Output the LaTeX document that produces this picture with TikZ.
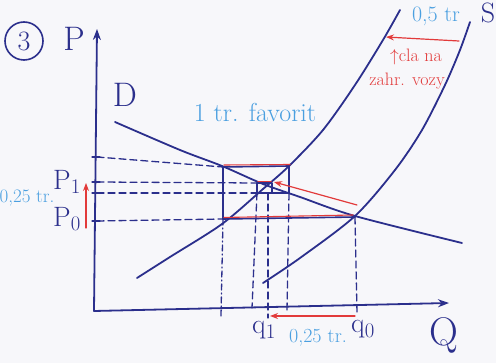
\documentclass[tikz,border=0pt]{standalone}
\usepackage{fontspec}
\setmainfont{Latin Modern Roman}
\usetikzlibrary{arrows.meta}
\definecolor{ink}{HTML}{2B2F8C}
\definecolor{lblue}{HTML}{4A9FE0}
\definecolor{rred}{HTML}{E23A3A}
\definecolor{paper}{HTML}{F7F7FA}
\begin{document}
\begin{tikzpicture}[x=1pt,y=-1pt,line cap=round,line join=round,
  fs/.style={font=\fontsize{#1}{#1}\selectfont},
  curve/.style={ink,line width=1.8pt},
  axisline/.style={ink,line width=1.8pt,-{Stealth[length=11pt,width=8pt]}},
  guide/.style={ink,line width=1.3pt,dash pattern=on 7pt off 4pt},
  dashdot/.style={ink,line width=1.3pt,dash pattern=on 6pt off 3pt on 1pt off 3pt},
  boxline/.style={ink,line width=1.6pt},
  redline/.style={rred,line width=1.1pt},
  redarr/.style={rred,line width=1.2pt,-{Stealth[length=8pt,width=6pt]}},
  tick/.style={ink,line width=1.3pt},
  inktext/.style={text=ink,inner sep=0pt},
  bluetext/.style={text=lblue,inner sep=0pt},
  redtext/.style={text=rred,inner sep=0pt}]
\useasboundingbox (0,0) rectangle (496,363);
\fill[paper] (0,0) rectangle (496,363);

% axes
\coordinate (O) at (94,311);
\coordinate (Ptop) at (97,29);
\coordinate (Qend) at (449,303);
\draw[axisline] (O) -- (Ptop);
\draw[axisline] (O) -- (Qend);

% key points
\coordinate (A) at (223,167);   % large box top-left
\coordinate (B) at (289,166);   % large box top-right
\coordinate (C) at (223,219);   % large box bottom-left
\coordinate (E0) at (355,217);  % original equilibrium
\coordinate (s1) at (257,183);  % small box top-left
\coordinate (s2) at (272,183);
\coordinate (s3) at (272,193);
\coordinate (s4) at (257,193);
\coordinate (Br) at (289,193);

% demand
\draw[curve] plot[smooth] coordinates {(115,122) (180,150) (222,166) (263,184) (300,197) (355,216) (462,243)};
% supply S (original)
\draw[curve] plot[smooth] coordinates {(263,283) (300,258) (355,216) (395,170) (422,130) (445,85) (460,50) (470,22)};
% supply shifted (0,5 tr)
\draw[curve] plot[smooth] coordinates {(137,278) (170,257) (222,224) (263,189) (289,166) (323,130) (355,85) (383,40) (400,10)};

% horizontal guides
\draw[guide] (97,157) -- (A);
\draw[guide] (97,182) -- (s1);
\draw[guide] (97,193) -- (s4);
\draw[guide] (97,221) -- (C);
\foreach \yy in {157,182,193,221} \draw[tick] (92,\yy) -- (100,\yy);

% vertical guides
\draw[dashdot] (C) -- (221,316);
\draw[guide] (s4) -- (252,308);
\draw[guide] (268,193) -- (268,318);
\draw[guide] (Br) -- (287,311);
\draw[guide] (E0) -- (357,313);

% boxes
\draw[boxline] (A) -- (B) -- (Br);
\draw[boxline] (A) -- (C) -- (E0);
\draw[boxline] (s4) -- (Br);
\draw[boxline] (s1) -- (s2) -- (s3) -- (s4) -- cycle;
\draw[redline] (224,165) -- (290,164.5);
\draw[redline] (224,217.5) -- (353,215);
\draw[redline] (258,181.5) -- (271,181.5);

% red arrows
\draw[redarr] (357,205) -- (274,182);
\draw[redarr] (355,316) -- (270,316);
\draw[redarr] (86,228) -- (86,183);
\draw[redarr] (459,41) -- (386,37);

% labels
\node[circle,draw=ink,line width=1.6pt,minimum size=38pt,inner sep=0pt,text=ink,fs=28] (three) at (24,41) {3};
\node[inktext,fs=34] (Plab) at (74,39) {P};
\node[inktext,fs=34] (Dlab) at (125,95) {D};
\node[inktext,fs=40] (Qlab) at (444,335) {Q};
\node[inktext,fs=28] (Slab) at (488,13) {S};
\node[bluetext,fs=22] (half) at (436,16) {0,5 tr};
\node[bluetext,fs=26] (fav) at (255,112) {1 tr. favorit};
\node[redtext,fs=18] (cla1) at (416,57) {$\uparrow$cla na};
\node[redtext,fs=18] (cla2) at (407,81) {zahr. vozy};
\node[inktext,fs=28] (P1) at (67,182) {P$_1$};
\node[inktext,fs=28] (P0) at (67,219) {P$_0$};
\node[bluetext,fs=19] (ql) at (27,198) {0,25 tr.};
\node[inktext,fs=28] (q1) at (264,330) {q$_1$};
\node[bluetext,fs=20] (qb) at (318,338) {0,25 tr.};
\node[inktext,fs=28] (q0) at (363,329) {q$_0$};
\end{tikzpicture}
\end{document}
